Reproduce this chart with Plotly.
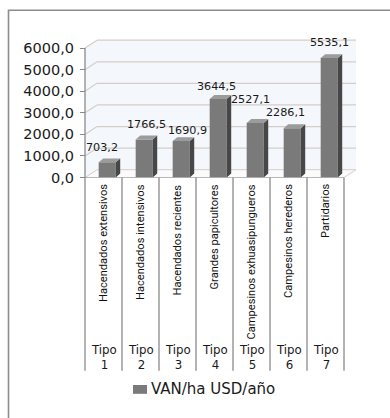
import plotly.graph_objects as go

# Data
tipos = ["Tipo 1", "Tipo 2", "Tipo 3", "Tipo 4", "Tipo 5", "Tipo 6", "Tipo 7"]
grupos = ["Hacendados extensivos", "Hacendados intensivos", "Hacendados recientes",
          "Grandes papicultores", "Campesinos exhuasipungueros",
          "Campesinos herederos", "Partidarios"]
van_ha = [703.2, 1766.5, 1690.9, 3644.5, 2527.1, 2286.1, 5535.1]
serie = "VAN/ha USD/año"
y_ticks = [0, 1000, 2000, 3000, 4000, 5000, 6000]

# Canvas / pixel geometry
W, H = 390, 418
X0_PX = 85.0          # pixel of category edge x = -0.5
CAT_PX = 37.0         # pixels per category
Y0_PX = 181.0         # pixel of value 0
Y_PX = 132.0 / 6000   # pixels per unit value

X_RANGE = [-0.6, 6.9]
Y_RANGE = [0, 6420]

def px_x(v):
    return X0_PX + (v + 0.5) * CAT_PX

def px_y(v):
    return Y0_PX - v * Y_PX

def paper_y(py):
    return 1 - py / H

# 3D depth of the walls (in data units)
DX = 12 / CAT_PX
DY = 8 / Y_PX
# depth of each column
BW = 0.46
BOFF = 0.10
SDX = 4.5 / CAT_PX
SDY = 4.0 / Y_PX

# label nudges in pixels (dx, dy above top)
LABEL_DX = [-4, 4, 8, 0, -3, -5, 2]
LABEL_DY = [15, 15, 11, 12, 23, 16, 16]

FRONT = "#7a7a7a"
SIDE = "#474747"
TOP = "#9c9c9c"
GRID = "#d6cdca"
WALL = "#f4f7fb"
AXIS = "#8a8a8a"
TXT = "#1a1a1a"

n = len(van_ha)
xs = list(range(n))

fig = go.Figure()

# front faces of the columns
fig.add_trace(go.Bar(
    x=xs, y=van_ha, width=BW, offset=BOFF - BW / 2,
    marker=dict(color=FRONT, line=dict(width=0)),
    name=serie, showlegend=False, hoverinfo="skip",
))

# side and top faces computed from each value
sx, sy, tx, ty = [], [], [], []
for i, v in enumerate(van_ha):
    xl = i + BOFF - BW / 2
    xr = i + BOFF + BW / 2
    sx += [xr, xr + SDX, xr + SDX, xr, xr, None]
    sy += [0, SDY, v + SDY, v, 0, None]
    tx += [xl, xl + SDX, xr + SDX, xr, xl, None]
    ty += [v, v + SDY, v + SDY, v, v, None]
fig.add_trace(go.Scatter(x=sx, y=sy, mode="lines", fill="toself",
                         fillcolor=SIDE, line=dict(width=0),
                         showlegend=False, hoverinfo="skip"))
fig.add_trace(go.Scatter(x=tx, y=ty, mode="lines", fill="toself",
                         fillcolor=TOP, line=dict(width=0),
                         showlegend=False, hoverinfo="skip"))

shapes = []
xl_w, xr_w = -0.5, n - 0.5
ymax = y_ticks[-1]
# back wall
shapes.append(dict(type="rect", xref="x", yref="y", x0=xl_w + DX, x1=xr_w + DX,
                   y0=DY, y1=ymax + DY, fillcolor=WALL, line=dict(width=0),
                   layer="below"))
# side wall
shapes.append(dict(type="path", xref="x", yref="y",
                   path=f"M{xl_w},0 L{xl_w + DX},{DY} L{xl_w + DX},{ymax + DY} L{xl_w},{ymax} Z",
                   fillcolor=WALL, line=dict(width=0), layer="below"))
# floor
shapes.append(dict(type="path", xref="x", yref="y",
                   path=f"M{xl_w},0 L{xr_w},0 L{xr_w + DX},{DY} L{xl_w + DX},{DY} Z",
                   fillcolor="#fbfbfb", line=dict(color=GRID, width=1), layer="below"))
# gridlines on both walls
for t in y_ticks[1:]:
    shapes.append(dict(type="line", xref="x", yref="y", x0=xl_w + DX, x1=xr_w + DX,
                       y0=t + DY, y1=t + DY, line=dict(color=GRID, width=1.2),
                       layer="below"))
    shapes.append(dict(type="line", xref="x", yref="y", x0=xl_w, x1=xl_w + DX,
                       y0=t, y1=t + DY, line=dict(color=GRID, width=1.2),
                       layer="below"))
# value axis line and front floor edge
shapes.append(dict(type="line", xref="x", yref="y", x0=xl_w, x1=xl_w, y0=0, y1=ymax,
                   line=dict(color=AXIS, width=1.3)))
shapes.append(dict(type="line", xref="x", yref="y", x0=xl_w, x1=xr_w, y0=0, y1=0,
                   line=dict(color=AXIS, width=1.3)))
# category dividers
for k in range(n + 1):
    shapes.append(dict(type="line", xref="x", yref="paper", x0=k - 0.5, x1=k - 0.5,
                       y0=paper_y(Y0_PX), y1=paper_y(378),
                       line=dict(color=AXIS, width=1.3)))
# legend key
shapes.append(dict(type="rect", xref="paper", yref="paper",
                   x0=133 / W, x1=147 / W, y0=paper_y(401.5), y1=paper_y(392.5),
                   fillcolor=FRONT, line=dict(width=0)))
# chart frame
shapes.append(dict(type="rect", xref="paper", yref="paper",
                   x0=8.5 / W, x1=1.2, y0=-0.2, y1=paper_y(10.5),
                   line=dict(color="#8c8c8c", width=1.6), fillcolor="rgba(0,0,0,0)"))

ann = []
for i, v in enumerate(van_ha):
    ann.append(dict(x=i, y=v, xref="x", yref="y", text=f"{v:.1f}".replace(".", ","),
                    showarrow=False, xanchor="center", yanchor="middle",
                    xshift=LABEL_DX[i] + 2, yshift=LABEL_DY[i],
                    font=dict(family="DejaVu Sans", size=11.2, color=TXT)))
    ann.append(dict(x=i, y=paper_y(186), xref="x", yref="paper", text=grupos[i],
                    textangle=-90, showarrow=False, xanchor="center", yanchor="top",
                    font=dict(family="Roboto", size=11.1, color="#111")))
    t1, t2 = tipos[i].split(" ")
    ann.append(dict(x=i, y=paper_y(364), xref="x", yref="paper",
                    text=f"{t1}<br>{t2}", showarrow=False, xanchor="center",
                    yanchor="middle",
                    font=dict(family="DejaVu Sans", size=11.8, color=TXT)))
ann.append(dict(x=149 / W, y=paper_y(397), xref="paper", yref="paper", text=serie,
                showarrow=False, xanchor="left", yanchor="middle",
                font=dict(family="DejaVu Sans", size=15, color=TXT)))

dom_x = [px_x(X_RANGE[0]) / W, px_x(X_RANGE[1]) / W]
dom_y = [paper_y(Y0_PX), paper_y(px_y(Y_RANGE[1]))]

fig.update_layout(
    width=W, height=H, margin=dict(l=0, r=0, t=0, b=0),
    paper_bgcolor="white", plot_bgcolor="rgba(0,0,0,0)",
    shapes=shapes, annotations=ann, showlegend=False,
    xaxis=dict(range=X_RANGE, domain=dom_x, visible=False, fixedrange=True),
    yaxis=dict(range=Y_RANGE, domain=dom_y, anchor="free", position=X0_PX / W,
               tickvals=y_ticks,
               ticktext=[f"{t:.1f}".replace(".", ",") for t in y_ticks],
               ticks="outside", ticklen=5, tickcolor=AXIS, tickwidth=1.3,
               ticklabelstandoff=3,
               showgrid=False, zeroline=False, showline=False,
               tickfont=dict(family="DejaVu Sans", size=14.5, color=TXT),
               fixedrange=True),
)

fig.write_html("out.html")
